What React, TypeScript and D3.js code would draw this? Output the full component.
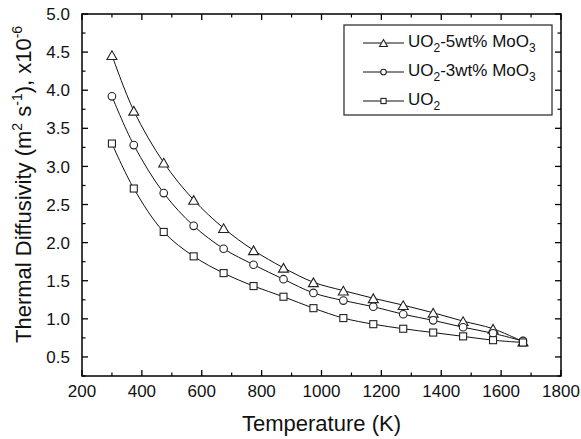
import React from 'react';
import * as d3 from 'd3';

// temperatures (K) and thermal diffusivity (x1e-6 m2/s)
const temps = [300, 373, 473, 573, 673, 773, 873, 973, 1073, 1173, 1273, 1373, 1473, 1573, 1673];
const uo2Mo5 = [4.46, 3.73, 3.05, 2.56, 2.19, 1.9, 1.67, 1.48, 1.37, 1.27, 1.18, 1.08, 0.97, 0.87, 0.7];
const uo2Mo3 = [3.92, 3.28, 2.65, 2.22, 1.92, 1.71, 1.52, 1.34, 1.24, 1.16, 1.06, 0.98, 0.89, 0.81, 0.71];
const uo2 = [3.3, 2.71, 2.14, 1.82, 1.6, 1.43, 1.29, 1.14, 1.01, 0.93, 0.87, 0.82, 0.77, 0.72, 0.69];

const xMajor = [200, 400, 600, 800, 1000, 1200, 1400, 1600, 1800];
const yMajor = [0.5, 1.0, 1.5, 2.0, 2.5, 3.0, 3.5, 4.0, 4.5, 5.0];

const series = [
  { key: 'mo5', values: uo2Mo5, marker: 'triangle', label: ['UO', '2', '-5wt% MoO', '3'] },
  { key: 'mo3', values: uo2Mo3, marker: 'circle', label: ['UO', '2', '-3wt% MoO', '3'] },
  { key: 'uo2', values: uo2, marker: 'square', label: ['UO', '2'] },
];

const W = 581;
const H = 439;
const margin = { top: 14, right: 20, bottom: 63, left: 82 };
const FONT = '"Liberation Sans", Arial, sans-serif';

function Marker({ type, x, y, s }: { type: string; x: number; y: number; s: number }) {
  const common = { fill: '#fff', stroke: '#222', strokeWidth: 1.1 };
  if (type === 'triangle') {
    const h = s * 0.87;
    const pts = `${x - s / 2},${y + h / 2} ${x + s / 2},${y + h / 2} ${x},${y - h / 2}`;
    return <polygon points={pts} {...common} />;
  }
  if (type === 'circle') {
    return <circle cx={x} cy={y} r={s * 0.4} {...common} />;
  }
  return <rect x={x - s * 0.37} y={y - s * 0.37} width={s * 0.74} height={s * 0.74} {...common} />;
}

export default function App() {
  const innerW = 561 - margin.left;
  const innerH = 376 - margin.top;

  const x = d3.scaleLinear().domain([200, 1800]).range([margin.left, margin.left + innerW]);
  const y = d3.scaleLinear().domain([0.25, 5.0]).range([margin.top + innerH, margin.top]);

  const line = d3
    .line<number>()
    .x((_, i) => x(temps[i]))
    .y(d => y(d))
    .curve(d3.curveCatmullRom.alpha(0.5));

  const xMinor = d3.range(300, 1800, 200);
  const yMinor = d3.range(0.25, 5.0, 0.5);

  const x0 = x(200), x1 = x(1800), y0 = y(0.25), y1 = y(5.0);
  const majLen = 6;
  const minLen = 3.5;

  const legX = 344, legY = 25, legW = 208, legH = 90;
  const rowBase = [47, 76, 105];

  return (
    <svg width={W} height={H} style={{ position: 'absolute', left: 0, top: 0 }} fontFamily={FONT}>
      <rect x={0} y={0} width={W} height={H} fill="#fff" />

      {/* curves */}
      {series.map(s => (
        <path key={s.key} d={line(s.values) || ''} fill="none" stroke="#111" strokeWidth={1} />
      ))}
      {/* markers */}
      {series.map(s =>
        s.values.map((v, i) => (
          <Marker key={s.key + i} type={s.marker} x={x(temps[i])} y={y(v)} s={s.marker === 'triangle' ? 10 : 9.5} />
        ))
      )}

      {/* frame */}
      <rect x={x0} y={y1} width={x1 - x0} height={y0 - y1} fill="none" stroke="#000" strokeWidth={1.5} />

      {/* x ticks */}
      {xMajor.map(t => (
        <g key={'xt' + t}>
          <line x1={x(t)} x2={x(t)} y1={y0} y2={y0 - majLen} stroke="#000" strokeWidth={1.3} />
          <line x1={x(t)} x2={x(t)} y1={y1} y2={y1 + majLen} stroke="#000" strokeWidth={1.3} />
          <text x={x(t)} y={397} textAnchor="middle" fontSize={17} fill="#111">{t}</text>
        </g>
      ))}
      {xMinor.map(t => (
        <g key={'xm' + t}>
          <line x1={x(t)} x2={x(t)} y1={y0} y2={y0 - minLen} stroke="#000" strokeWidth={1.2} />
          <line x1={x(t)} x2={x(t)} y1={y1} y2={y1 + minLen} stroke="#000" strokeWidth={1.2} />
        </g>
      ))}

      {/* y ticks */}
      {yMajor.map(t => (
        <g key={'yt' + t}>
          <line x1={x0} x2={x0 + majLen} y1={y(t)} y2={y(t)} stroke="#000" strokeWidth={1.3} />
          <line x1={x1} x2={x1 - majLen} y1={y(t)} y2={y(t)} stroke="#000" strokeWidth={1.3} />
          <text x={70} y={y(t)} dy="0.36em" textAnchor="end" fontSize={17} fill="#111">{t.toFixed(1)}</text>
        </g>
      ))}
      {yMinor.map(t => (
        <g key={'ym' + t}>
          <line x1={x0} x2={x0 + minLen} y1={y(t)} y2={y(t)} stroke="#000" strokeWidth={1.2} />
          <line x1={x1} x2={x1 - minLen} y1={y(t)} y2={y(t)} stroke="#000" strokeWidth={1.2} />
        </g>
      ))}

      {/* axis titles */}
      <text x={(x0 + x1) / 2} y={431} textAnchor="middle" fontSize={22} fill="#111">Temperature (K)</text>
      <text transform={`translate(31,343) rotate(-90)`} textAnchor="start" fontSize={22} fill="#111">
        Thermal Diffusivity (m
        <tspan fontSize={14} dy={-9}>2</tspan>
        <tspan dy={9}> s</tspan>
        <tspan fontSize={14} dy={-9}>-1</tspan>
        <tspan dy={9}>), x10</tspan>
        <tspan fontSize={14} dy={-9}>-6</tspan>
      </text>

      {/* legend */}
      <rect x={legX} y={legY} width={legW} height={legH} fill="#fff" stroke="#333" strokeWidth={1.3} />
      {series.map((s, i) => {
        const ly = rowBase[i] - 4;
        return (
          <g key={'lg' + s.key}>
            <line x1={363} x2={404} y1={ly} y2={ly} stroke="#111" strokeWidth={1} />
            <Marker type={s.marker} x={383.5} y={ly} s={s.marker === 'triangle' ? 8 : 7} />
            <text x={408} y={rowBase[i]} fontSize={17} fill="#111">
              {s.label.map((part, j) =>
                j % 2 === 1 ? (
                  <tspan key={j} fontSize={12} dy={5}>{part}</tspan>
                ) : (
                  <tspan key={j} dy={j === 0 ? 0 : -5}>{part}</tspan>
                )
              )}
            </text>
          </g>
        );
      })}
    </svg>
  );
}
